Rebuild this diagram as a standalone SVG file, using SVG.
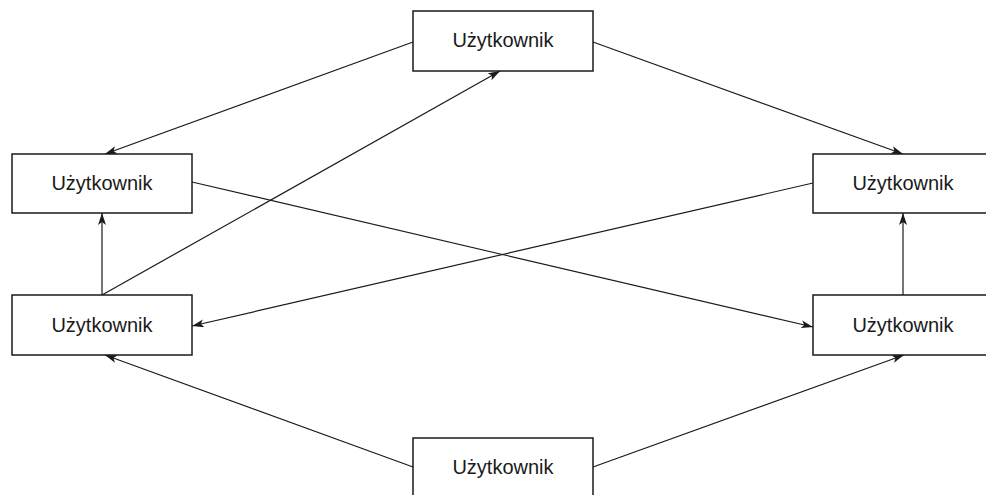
<svg xmlns="http://www.w3.org/2000/svg" width="986" height="495" viewBox="0 0 986 495">
  <defs>
    <marker id="arrow" viewBox="0 0 12 8" refX="12" refY="4" markerWidth="12" markerHeight="8" markerUnits="userSpaceOnUse" orient="auto">
      <path d="M0,0 L12,4 L0,8 L3,4 Z" fill="#1a1a1a"/>
    </marker>
    <style>
      .box { fill: #ffffff; stroke: #1a1a1a; stroke-width: 1.5; }
      .label { font-family: "Liberation Sans", Arial, sans-serif; font-size: 20px; fill: #1a1a1a; text-anchor: middle; }
      .edge { fill: none; stroke: #1a1a1a; stroke-width: 1.2; marker-end: url(#arrow); }
    </style>
  </defs>
  <rect width="986" height="495" fill="#ffffff"/>

  <!-- connectors -->
  <g id="connectors">
    <line class="edge" x1="413" y1="42" x2="105" y2="154"/>
    <line class="edge" x1="593" y1="42" x2="903" y2="154"/>
    <line class="edge" x1="102" y1="295" x2="500" y2="71"/>
    <line class="edge" x1="102" y1="295" x2="102" y2="213"/>
    <line class="edge" x1="192" y1="182" x2="813" y2="327"/>
    <line class="edge" x1="813" y1="183" x2="192" y2="326"/>
    <line class="edge" x1="903" y1="295" x2="903" y2="213"/>
    <line class="edge" x1="413" y1="467" x2="105" y2="355"/>
    <line class="edge" x1="593" y1="467" x2="904" y2="355"/>
  </g>

  <!-- nodes -->
  <g id="node-top">
    <rect class="box" x="413" y="11" width="180" height="60"/>
    <text class="label" x="503" y="47">Użytkownik</text>
  </g>
  <g id="node-left-upper">
    <rect class="box" x="12" y="154" width="180" height="59"/>
    <text class="label" x="102" y="190">Użytkownik</text>
  </g>
  <g id="node-right-upper">
    <rect class="box" x="813" y="154" width="180" height="59"/>
    <text class="label" x="903" y="190">Użytkownik</text>
  </g>
  <g id="node-left-lower">
    <rect class="box" x="12" y="295" width="180" height="60"/>
    <text class="label" x="102" y="332">Użytkownik</text>
  </g>
  <g id="node-right-lower">
    <rect class="box" x="813" y="295" width="180" height="60"/>
    <text class="label" x="903" y="332">Użytkownik</text>
  </g>
  <g id="node-bottom">
    <rect class="box" x="413" y="438" width="180" height="60"/>
    <text class="label" x="503" y="474">Użytkownik</text>
  </g>
</svg>
